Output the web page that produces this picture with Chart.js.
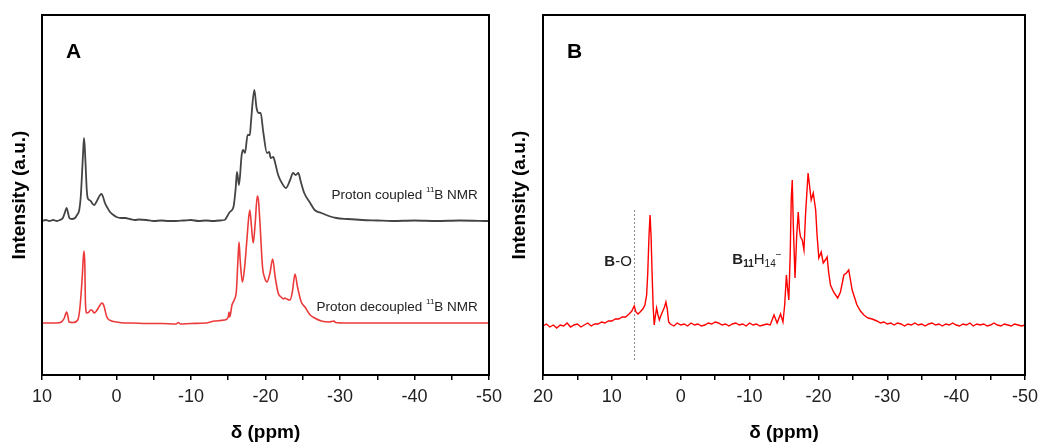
<!DOCTYPE html>
<html>
<head>
<meta charset="utf-8">
<script src="https://cdn.jsdelivr.net/npm/chart.js@4.4.1/dist/chart.umd.min.js"></script>
<style>
  body { margin: 0; background: #fff; width: 1044px; height: 442px; position: relative; overflow: hidden; }
  canvas { position: absolute; top: 0; }
  #chartA { left: 0; width: 520px; height: 442px; }
  #chartB { left: 500px; width: 544px; height: 442px; }
</style>
</head>
<body>
<canvas id="chartA" width="520" height="442"></canvas>
<canvas id="chartB" width="544" height="442"></canvas>
<script>
// Panel A - proton coupled trace (ppm, intensity a.u.)
const coupledPpm = [10, 9.5, 9, 8.5, 8, 7.6, 7.2, 6.95, 6.7, 6.5, 6.33, 6.0, 5.57, 5.3, 5.0, 4.8, 4.67, 4.5, 4.36, 4.22, 4.1, 4.0, 3.87, 3.65, 3.46, 3.2, 2.98, 2.7, 2.44, 2.2, 2.0, 1.8, 1.55, 1.2, 0.87, 0.4, 0, -0.6, -1.2, -1.8, -2.5, -3, -4, -5, -6, -7, -8, -9, -10, -11, -12, -13, -13.8, -14.5, -15.2, -15.7, -16.0, -16.17, -16.44, -16.8, -17.0, -17.25, -17.6, -17.9, -18.05, -18.5, -18.8, -19.1, -19.35, -19.7, -20.2, -20.5, -20.7, -21.05, -21.3, -21.7, -22.2, -22.75, -23.3, -23.7, -24.05, -24.4, -24.75, -25.2, -26, -26.6, -27.5, -28.5, -29.5, -31, -33, -35, -37, -40, -43, -46, -50];
const coupledInt = [154, 155, 154, 155, 154, 155, 157, 162, 167, 162, 157, 156, 157, 160, 165, 178, 195, 220, 237, 222, 202, 186, 177, 175, 174, 171, 170, 173, 177, 180, 181, 178, 172, 167, 163, 160, 158, 157, 157, 156, 155, 155.5, 155, 154, 154.5, 154, 154, 154.5, 155, 154, 154.5, 154, 154.5, 155, 163, 168, 187, 203, 190, 220, 225, 222, 240, 240, 253, 285, 267, 262, 262, 243, 222, 223, 217, 218, 212, 200, 192, 187, 195, 202, 200, 202, 193, 182, 172, 165, 162, 159, 157, 156, 155, 154.5, 154, 154.5, 154, 154.5, 154];

// Panel A - proton decoupled trace
const decoupledPpm = [10, 9, 8, 7.4, 7.0, 6.7, 6.5, 6.38, 5.8, 5.2, 4.9, 4.6, 4.45, 4.36, 4.25, 4.18, 4.0, 3.7, 3.5, 3.33, 2.98, 2.7, 2.44, 2.2, 2.0, 1.8, 1.64, 1.3, 0.64, 0, -1, -2, -4, -6, -8, -8.3, -8.6, -10, -12, -13.2, -14.5, -15.0, -15.1, -15.2, -15.5, -15.8, -16.1, -16.3, -16.45, -16.6, -16.9, -17.2, -17.5, -17.75, -17.9, -18.1, -18.35, -18.6, -18.9, -19.05, -19.26, -19.6, -19.9, -20.2, -20.6, -20.96, -21.3, -21.7, -22.1, -22.4, -22.6, -22.85, -23.3, -23.6, -23.96, -24.3, -24.8, -25.3, -26, -26.6, -27.5, -28.5, -29.2, -29.4, -31, -35, -40, -45, -50];
const decoupledInt = [52, 52, 52, 53, 57, 63, 58, 53, 52.5, 55, 68, 98, 118, 124, 110, 75, 62, 63, 65, 65, 62, 64, 67, 70, 72, 71, 68, 58, 54, 53, 52, 52, 51.5, 51.5, 51, 52.5, 51, 51.5, 52, 54, 55, 58, 63, 58, 70, 75, 85, 115, 133, 115, 93, 108, 135, 158, 165, 150, 132, 150, 179, 175, 152, 108, 97, 93, 102, 116, 98, 82, 78, 76, 77, 76, 75, 83, 101, 88, 73, 68, 60, 57, 54, 53, 54, 52.5, 52, 52, 52, 52, 52];

// Panel B - spectrum
const bPpm = [20, 19.5, 19, 18.5, 18, 17.5, 17, 16.5, 16, 15.5, 15, 14.5, 14, 13.5, 13, 12.5, 12, 11.5, 11, 10.5, 10, 9.5, 9, 8.5, 8, 7.5, 7.1, 6.9, 6.75, 6.5, 6.2, 5.9, 5.5, 5.2, 4.95, 4.8, 4.6, 4.45, 4.3, 4.15, 4.0, 3.85, 3.7, 3.5, 3.3, 3.1, 2.9, 2.6, 2.35, 2.15, 1.95, 1.75, 1.5, 1.0, 0.5, 0, -0.5, -1, -1.5, -2, -2.5, -3, -3.5, -4, -4.5, -5, -5.5, -6, -6.5, -7, -7.5, -8, -8.5, -9, -9.5, -10, -10.5, -11, -11.5, -12, -12.5, -13, -13.55, -14.0, -14.5, -14.85, -15.1, -15.35, -15.5, -15.7, -15.9, -16.05, -16.2, -16.35, -16.6, -16.85, -17.07, -17.25, -17.4, -17.65, -17.9, -18.14, -18.5, -18.7, -18.95, -19.25, -19.6, -19.8, -20.06, -20.4, -20.7, -21.0, -21.26, -21.5, -21.75, -22.2, -22.5, -22.8, -23.2, -23.7, -24.07, -24.4, -24.9, -25.6, -26.1, -26.6, -27.2, -27.8, -28.5, -29, -29.5, -30, -30.5, -31, -31.5, -32, -32.5, -33, -33.5, -34, -34.5, -35, -35.5, -36, -36.5, -37, -37.5, -38, -38.5, -39, -39.5, -40, -40.5, -41, -41.5, -42, -42.5, -43, -43.5, -44, -44.5, -45, -45.5, -46, -46.5, -47, -47.5, -48, -48.5, -49, -49.5, -50];
const bInt = [49, 51, 48, 50, 47, 50, 49, 52, 48, 50, 51, 48, 50, 52, 49, 51, 51, 53, 52, 54, 54, 56, 56, 58, 58, 61, 64, 67, 69, 63, 61, 63, 66, 70, 80, 100, 140, 160, 138, 100, 68, 50, 58, 67, 60, 55, 59, 64, 68, 73, 66, 53, 51, 49, 52, 50, 51, 49, 52, 50, 51, 49, 50, 52, 51, 53, 52, 50, 51, 49, 51, 52, 50, 51, 49, 52, 50, 51, 49, 50, 51, 50, 60, 52, 61, 53, 70, 100, 88, 75, 120, 175, 195, 150, 97, 140, 163, 145, 138, 135, 125, 162, 202, 190, 175, 182, 165, 140, 117, 123, 112, 115, 118, 102, 90, 83, 80, 77, 83, 100, 102, 105, 85, 70, 64, 60, 57, 56, 54, 52, 53, 51, 52, 50, 52, 51, 49, 51, 50, 52, 50, 51, 49, 51, 52, 50, 51, 49, 51, 50, 52, 50, 49, 51, 50, 52, 49, 51, 50, 51, 49, 50, 52, 50, 49, 51, 50, 49, 51, 50, 49, 50];

// B-O marker line
const boPpm = 6.7;
const boRange = [165, 15];

// axis ticks
const ticksA = [10, 5, 0, -5, -10, -15, -20, -25, -30, -35, -40, -45, -50];
const ticksB = [20, 15, 10, 5, 0, -5, -10, -15, -20, -25, -30, -35, -40, -45, -50];

const FONT = '"Liberation Sans", Arial, sans-serif';

function pts(xs, ys) { return xs.map((x, i) => ({ x: x, y: ys[i] })); }

// draw a run of text pieces: [text, size, bold, dy]
function richText(ctx, parts, x, y, align) {
  let w = 0;
  parts.forEach(p => { ctx.font = (p[2] ? 'bold ' : '') + p[1] + 'px ' + FONT; w += ctx.measureText(p[0]).width; });
  let cx = align === 'right' ? x - w : x;
  ctx.textBaseline = 'middle';
  ctx.textAlign = 'left';
  parts.forEach(p => {
    ctx.font = (p[2] ? 'bold ' : '') + p[1] + 'px ' + FONT;
    ctx.fillText(p[0], cx, y + (p[3] || 0));
    cx += ctx.measureText(p[0]).width;
  });
}

function frame(letter, notes) {
  return {
    id: 'frame',
    afterDraw(chart) {
      const { ctx, chartArea: a, scales } = chart;
      ctx.save();
      ctx.strokeStyle = '#000';
      ctx.lineWidth = 2;
      ctx.strokeRect(a.left, a.top, a.right - a.left, a.bottom - a.top);
      ctx.fillStyle = '#000';
      richText(ctx, [[letter, 21, true]], a.left + 24, a.top + 37, 'left');
      ctx.fillStyle = '#222';
      notes.forEach(n => richText(ctx, n.parts, scales.x.getPixelForValue(n.x), scales.y.getPixelForValue(n.y), n.align));
      ctx.restore();
    }
  };
}

function makeChart(id, datasets, tickVals, maxX, yWidth, padRight, letter, notes) {
  return new Chart(document.getElementById(id), {
    type: 'line',
    data: { datasets },
    options: {
      responsive: false,
      animation: false,
      devicePixelRatio: 1,
      layout: { padding: { top: 15, right: padRight, bottom: 0, left: 0 } },
      elements: { point: { radius: 0 }, line: { tension: 0 } },
      plugins: { legend: { display: false }, tooltip: { enabled: false } },
      scales: {
        x: {
          type: 'linear', reverse: true, min: -50, max: maxX,
          afterBuildTicks: s => { s.ticks = tickVals.map(v => ({ value: v })); },
          afterFit: s => { s.height = 67; },
          ticks: {
            autoSkip: false, maxRotation: 0, padding: 6, color: '#222',
            font: { family: FONT, size: 18 },
            callback: v => (v % 10 === 0 ? String(v) : '')
          },
          grid: { drawOnChartArea: false, drawTicks: true, tickLength: 5, color: '#000', lineWidth: 1.5 },
          border: { display: false },
          title: { display: true, text: 'δ (ppm)', color: '#000', font: { family: FONT, size: 19, weight: 'bold', lineHeight: 1 }, padding: { top: 0, bottom: 0 } }
        },
        y: {
          min: 0, max: 360,
          afterFit: s => { s.width = yWidth; },
          ticks: { display: false },
          grid: { display: false },
          border: { display: false },
          title: { display: true, text: 'Intensity (a.u.)', color: '#000', font: { family: FONT, size: 19, weight: 'bold', lineHeight: 1 }, padding: { top: 10, bottom: 0 } }
        }
      }
    },
    plugins: [frame(letter, notes)]
  });
}

makeChart('chartA', [
  { data: pts(coupledPpm, coupledInt), borderColor: '#444', borderWidth: 1.8, cubicInterpolationMode: 'monotone' },
  { data: pts(decoupledPpm, decoupledInt), borderColor: '#ec3a3a', borderWidth: 1.6, cubicInterpolationMode: 'monotone' }
], ticksA, 10, 42, 31, 'A', [
  { x: -48.5, y: 180, align: 'right', parts: [['Proton coupled ', 13.5], ['11', 8, false, -5], ['B NMR', 13.5]] },
  { x: -48.5, y: 68, align: 'right', parts: [['Proton decoupled ', 13.5], ['11', 8, false, -5], ['B NMR', 13.5]] }
]);

makeChart('chartB', [
  { data: pts(bPpm, bInt), borderColor: '#f00', borderWidth: 1.4 },
  { data: [{ x: boPpm, y: boRange[0] }, { x: boPpm, y: boRange[1] }], borderColor: '#888', borderWidth: 1, borderDash: [2, 2] }
], ticksB, 20, 43, 17, 'B', [
  { x: 7.1, y: 113, align: 'right', parts: [['B', 15, true], ['-O', 15]] },
  { x: -7.5, y: 115, align: 'left', parts: [['B', 15, true], ['11', 10, true, 4], ['H', 15], ['14', 10, false, 4], ['−', 10, false, -5]] }
]);
</script>
</body>
</html>
